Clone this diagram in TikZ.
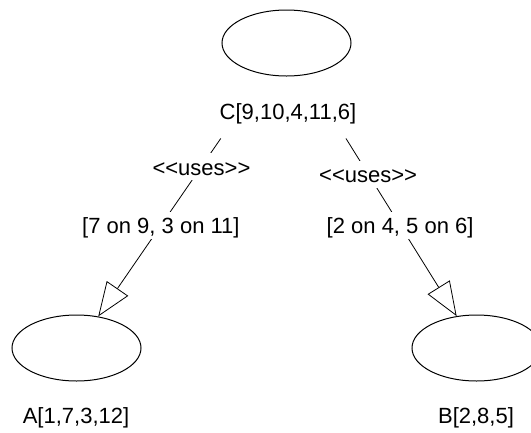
\documentclass[tikz,border=0pt]{standalone}
\usepackage{fontspec}
\setmainfont{Liberation Sans}
\usetikzlibrary{shapes.geometric,arrows.meta,calc}
\begin{document}
\begin{tikzpicture}[x=1pt,y=-1pt,
  obj/.style={draw, ellipse, line width=1pt, minimum width=129pt, minimum height=66pt, inner sep=0pt},
  lbl/.style={font=\fontsize{22}{26}\selectfont, inner sep=0pt, anchor=base},
  edgelbl/.style={font=\fontsize{22}{26}\selectfont, fill=white, inner xsep=2pt, inner ysep=0pt, text height=22pt, text depth=5pt},
  uses/.style={line width=0.8pt, -{Triangle[open,length=34pt,width=26pt,line width=0.8pt]}}
]
\clip (0,0) rectangle (531,432);
\node[obj] (top) at (286.5,43) {};
\node[obj] (A) at (76.5,348) {};
\node[obj] (B) at (476.5,348) {};
\node[lbl] (Clbl) at (288,119) {C[9,10,4,11,6]};
\node[lbl] (Albl) at (76,423) {A[1,7,3,12]};
\node[lbl] (Blbl) at (476,423) {B[2,8,5]};
\coordinate (sA) at ($(top.center)!0.313!(A.center)$);
\coordinate (sB) at ($(top.center)!0.313!(B.center)$);
\draw[uses] (sA) -- (A);
\draw[uses] (sB) -- (B);
\node[edgelbl] (uA) at ($(top.center)!0.405!(A.center)$) {<\kern0pt<uses>\kern0pt>};
\node[edgelbl] (uB) at ($(top.center)!0.4295!(B.center)$) {<\kern0pt<uses>\kern0pt>};
\node[edgelbl] (mA) at ($(top.center)!0.598!(A.center)$) {[7 on 9, 3 on 11]};
\node[edgelbl] (mB) at ($(top.center)!0.598!(B.center)$) {[2 on 4, 5 on 6]};
\end{tikzpicture}
\end{document}
